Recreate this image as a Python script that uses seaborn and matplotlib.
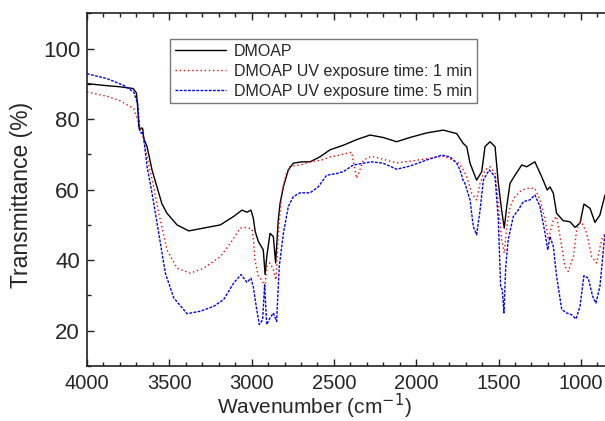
import numpy as np
import pandas as pd
import seaborn as sns
import matplotlib.pyplot as plt
from matplotlib.ticker import MultipleLocator

# DMOAP (untreated)
wn_dmoap = [4000, 3900, 3800, 3720, 3700, 3693, 3685, 3680, 3672, 3662, 3655, 3635, 3605, 3575,
            3545, 3514, 3453, 3382, 3291, 3190, 3109, 3058, 3028, 3004, 2990, 2978, 2959, 2929,
            2918, 2908, 2888, 2868, 2854, 2838, 2827, 2807, 2777, 2747, 2696, 2645, 2585, 2524,
            2443, 2362, 2281, 2200, 2119, 2038, 1937, 1835, 1754, 1714, 1693, 1673, 1633, 1602,
            1582, 1552, 1521, 1501, 1481, 1465, 1450, 1430, 1400, 1359, 1329, 1279, 1238, 1204,
            1187, 1167, 1147, 1107, 1066, 1035, 1005, 981, 944, 914, 884, 853]
t_dmoap = [90.1, 89.6, 89.2, 88.7, 87.5, 84.0, 78.0, 76.9, 77.5, 77.4, 74.5, 72.2, 65.6, 60.8,
           56.0, 53.3, 50.0, 48.3, 49.1, 50.0, 52.4, 54.2, 53.6, 54.2, 52.0, 48.1, 45.3, 42.9,
           35.9, 41.0, 47.6, 46.7, 39.2, 51.4, 56.1, 60.8, 65.6, 67.5, 67.9, 67.9, 69.3, 71.3,
           72.6, 74.2, 75.5, 74.8, 73.6, 74.8, 76.1, 76.9, 75.9, 73.1, 72.2, 67.5, 62.7, 65.1,
           72.2, 73.6, 72.2, 61.8, 54.2, 49.1, 55.2, 61.8, 64.1, 67.0, 66.5, 67.9, 63.7, 59.9,
           60.8, 59.0, 53.3, 51.2, 50.9, 49.3, 50.5, 55.9, 54.7, 50.7, 52.8, 58.5]

# DMOAP, UV 1 min
wn_uv1 = [4000, 3878, 3798, 3716, 3692, 3666, 3635, 3595, 3564, 3514, 3453, 3372, 3291, 3190,
          3129, 3069, 3030, 2998, 2990, 2980, 2959, 2939, 2918, 2908, 2888, 2868, 2852, 2838,
          2817, 2790, 2767, 2706, 2645, 2574, 2524, 2463, 2443, 2392, 2378, 2362, 2342, 2321,
          2271, 2200, 2119, 2018, 1916, 1835, 1775, 1740, 1714, 1693, 1663, 1633, 1612, 1582,
          1552, 1521, 1501, 1481, 1465, 1450, 1430, 1400, 1359, 1319, 1279, 1248, 1217, 1197,
          1167, 1147, 1126, 1096, 1076, 1045, 1025, 1001, 964, 934, 904, 873, 853]
t_uv1 = [87.7, 86.5, 85.2, 83.0, 79.7, 76.4, 69.3, 60.8, 53.3, 42.9, 37.7, 36.3, 37.7, 41.0,
         44.8, 49.1, 49.3, 48.8, 46.7, 40.1, 35.4, 34.4, 32.5, 38.2, 39.2, 37.3, 34.4, 47.6,
         59.0, 64.5, 66.6, 67.0, 67.9, 68.4, 69.3, 69.8, 70.1, 70.6, 67.0, 63.2, 65.6, 68.4,
         69.5, 68.6, 67.6, 68.2, 68.9, 69.5, 68.4, 67.5, 65.6, 63.7, 59.0, 57.1, 61.8, 65.6,
         66.5, 64.6, 56.1, 45.8, 42.0, 49.5, 55.2, 58.0, 59.9, 60.4, 60.4, 57.1, 51.4, 45.8,
         51.4, 52.4, 46.7, 38.2, 36.8, 41.0, 48.6, 51.4, 47.6, 41.0, 39.2, 45.8, 47.6]

# DMOAP, UV 5 min
wn_uv5 = [4000, 3878, 3777, 3716, 3692, 3685, 3680, 3670, 3660, 3635, 3605, 3564, 3524, 3473,
          3392, 3312, 3230, 3170, 3109, 3064, 3028, 3004, 2990, 2969, 2953, 2933, 2921, 2908,
          2888, 2868, 2848, 2832, 2807, 2777, 2747, 2706, 2645, 2595, 2544, 2483, 2443, 2382,
          2321, 2271, 2200, 2119, 2038, 1937, 1845, 1795, 1754, 1734, 1714, 1704, 1673, 1653,
          1633, 1612, 1592, 1556, 1521, 1501, 1487, 1477, 1467, 1456, 1441, 1410, 1380, 1349,
          1309, 1279, 1248, 1217, 1201, 1187, 1167, 1147, 1116, 1086, 1056, 1029, 1005, 981,
          955, 928, 908, 884, 859, 853]
t_uv5 = [92.9, 91.5, 89.6, 87.7, 84.4, 80.0, 76.7, 76.0, 76.4, 66.5, 59.0, 47.6, 36.3, 29.3,
         24.8, 25.5, 26.9, 28.8, 33.5, 35.9, 33.7, 34.9, 32.5, 26.0, 21.7, 23.1, 33.0, 21.7,
         23.6, 25.0, 22.6, 38.2, 47.6, 55.2, 58.0, 59.1, 59.1, 60.8, 64.1, 64.6, 65.1, 67.0,
         67.5, 67.9, 67.5, 65.8, 66.7, 68.4, 69.8, 69.3, 67.5, 65.6, 62.5, 61.8, 57.1, 49.5,
         47.2, 54.2, 62.7, 65.6, 63.7, 51.4, 32.5, 31.6, 25.0, 38.2, 45.8, 52.4, 54.2, 56.6,
         57.1, 58.5, 55.2, 47.6, 42.9, 46.7, 43.9, 35.4, 26.0, 25.0, 24.5, 23.3, 26.9, 35.6,
         34.9, 29.7, 27.8, 32.5, 44.8, 47.5]

labels = ["DMOAP", "DMOAP UV exposure time: 1 min", "DMOAP UV exposure time: 5 min"]

sns.set_style("ticks")
plt.rcParams['font.family'] = ['Liberation Sans', 'DejaVu Sans']

fig = plt.figure(figsize=(6.05, 4.21), dpi=100)
ax = fig.add_axes([0.1438, 0.131, 0.8562, 0.837])

df1 = pd.DataFrame({"wn": wn_dmoap, "T": t_dmoap})
df2 = pd.DataFrame({"wn": wn_uv1, "T": t_uv1})
df3 = pd.DataFrame({"wn": wn_uv5, "T": t_uv5})

sns.lineplot(x="wn", y="T", data=df1, ax=ax, color="black", lw=1.0, sort=False,
             estimator=None, label=labels[0])
sns.lineplot(x="wn", y="T", data=df2, ax=ax, color="red", lw=1.0, sort=False,
             estimator=None, label=labels[1], linestyle=(0, (1, 2)))
sns.lineplot(x="wn", y="T", data=df3, ax=ax, color="blue", lw=1.0, sort=False,
             estimator=None, label=labels[2], linestyle=(0, (2, 1)))

ax.set_xlim(4000, 853)
ax.set_ylim(10, 110)
ax.xaxis.set_major_locator(MultipleLocator(500))
ax.xaxis.set_minor_locator(MultipleLocator(100))
ax.yaxis.set_major_locator(MultipleLocator(20))
ax.yaxis.set_minor_locator(MultipleLocator(10))
ax.set_yticks([20, 40, 60, 80, 100])
ax.tick_params(which="both", direction="in", top=True, right=False,
               color="#222222", width=1.0)
ax.tick_params(axis="y", labelsize=16, pad=5)
ax.tick_params(axis="x", labelsize=14.5, pad=6)
ax.tick_params(which="major", length=5)
ax.tick_params(which="minor", length=3)
for s in ["left", "bottom", "top"]:
    ax.spines[s].set_linewidth(1.2)
    ax.spines[s].set_color("#222222")
ax.spines["right"].set_visible(False)

ax.set_xlabel("Wavenumber (cm$^{-1}$)", fontsize=15)
ax.set_ylabel("Transmittance (%)", fontsize=16.5)
ax.xaxis.set_label_coords(0.438, -0.074)
ax.yaxis.set_label_coords(-0.105, 0.484)

leg = ax.legend(loc="upper left", bbox_to_anchor=(0.16, 0.927), borderaxespad=0,
                fancybox=False, frameon=True, fontsize=11.5, handlelength=3.2,
                handletextpad=0.5, labelspacing=0.3, borderpad=0.3)
leg.get_frame().set_edgecolor("#555555")
leg.get_frame().set_linewidth(1.0)

plt.savefig("out.png", dpi=100)
